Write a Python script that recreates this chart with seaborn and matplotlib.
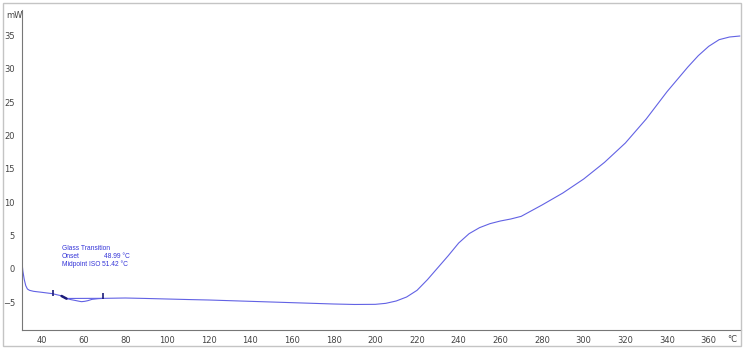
import matplotlib
matplotlib.use("Agg")
import matplotlib.pyplot as plt
import seaborn as sns
import pandas as pd
from matplotlib.patches import Rectangle
from matplotlib.ticker import MultipleLocator

# DSC curve, temperature in °C vs heat flow in mW
temp = [30.4, 30.8, 31.5, 32.2, 33, 34, 36, 40, 45, 49, 50, 52, 54, 56, 58, 59, 60.5,
        62, 64, 67, 70, 80, 90, 100, 110, 120, 130, 140, 150, 160, 170, 180, 190,
        200, 205, 210, 215, 220, 225, 230, 235, 240, 245, 250, 255, 260, 265, 270,
        280, 290, 300, 310, 320, 330, 340, 350, 355, 360, 365, 370, 375]
heat = [1.0, -0.3, -1.6, -2.5, -3.0, -3.2, -3.35, -3.5, -3.7, -4.0, -4.2, -4.45, -4.6,
        -4.72, -4.85, -4.9, -4.85, -4.75, -4.55, -4.45, -4.4, -4.35, -4.42, -4.5,
        -4.58, -4.65, -4.75, -4.85, -4.95, -5.05, -5.15, -5.25, -5.32, -5.3, -5.15,
        -4.8, -4.2, -3.2, -1.6, 0.2, 2.0, 3.9, 5.3, 6.2, 6.8, 7.2, 7.5, 7.9, 9.6,
        11.4, 13.5, 16.0, 18.9, 22.5, 26.6, 30.3, 32.0, 33.4, 34.4, 34.8, 34.95]

# glass transition evaluation marks
base_t = [51.0, 69.4]
base_h = [-4.42, -4.4]
limit_t = [45.4, 69.4]
limit_h = [-3.65, -4.1]
onset_t = [49.4, 51.8]
onset_h = [-4.05, -4.45]

xticks = list(range(40, 361, 20))
yticks = list(range(-5, 36, 5))

df = pd.DataFrame({"T": temp, "mW": heat})

sns.set_style("white")
plt.rcParams["font.family"] = ["DejaVu Sans"]

fig = plt.figure(figsize=(7.45, 3.5), dpi=100)
ax = fig.add_axes([22 / 745, 20 / 350, 719 / 745, 320 / 350])

line_c = "#6262e4"
sns.lineplot(data=df, x="T", y="mW", ax=ax, color=line_c, lw=0.8, sort=False)
ax.plot(base_t, base_h, color=line_c, lw=0.8)
ax.plot(onset_t, onset_h, color="#1c1c7a", lw=1.8)
ax.plot(limit_t, limit_h, ls="none", marker="|", ms=4, mew=1.2, color="#1c1c7a")

ax.set_xlim(30.4, 375.5)
ax.set_ylim(-9.15, 38.85)
ax.set_xticks(xticks)
ax.set_yticks(yticks)
ax.xaxis.set_minor_locator(MultipleLocator(10))
ax.yaxis.set_minor_locator(MultipleLocator(1))
ax.tick_params(axis="x", which="major", direction="in", length=4, width=0.6,
               labelsize=6, colors="#666666", labelcolor="#444444", pad=4)
ax.tick_params(axis="x", which="minor", direction="in", length=2.5, width=0.6, colors="#666666")
ax.tick_params(axis="y", which="major", direction="out", length=3, width=0.6,
               labelsize=6, colors="#666666", labelcolor="#444444", pad=2)
ax.tick_params(axis="y", which="minor", direction="out", length=1.5, width=0.5, colors="#666666")
ax.set_xlabel("")
ax.set_ylabel("")

for side in ["top", "right"]:
    ax.spines[side].set_visible(False)
for side in ["left", "bottom"]:
    ax.spines[side].set_color("#777777")
    ax.spines[side].set_linewidth(0.8)

txt_c = "#3434d8"
fs = 4.8
ann_font = ["Liberation Sans", "DejaVu Sans"]
ax.text(49.6, 3.0, "Glass Transition", fontsize=fs, color=txt_c, va="center", family=ann_font)
ax.text(49.6, 1.8, "Onset", fontsize=fs, color=txt_c, va="center", family=ann_font)
ax.text(69.8, 1.8, "48.99 °C", fontsize=fs, color=txt_c, va="center", family=ann_font)
ax.text(49.6, 0.7, "Midpoint ISO", fontsize=fs, color=txt_c, va="center", family=ann_font)
ax.text(68.6, 0.7, "51.42 °C", fontsize=fs, color=txt_c, va="center", family=ann_font)

fig.text(6 / 745, 1 - 15 / 350, "mW", fontsize=6, color="#444444", va="center")
fig.text(727 / 745, 1 - 339 / 350, "°C", fontsize=6, color="#444444", va="center")

# outer frame
fig.patches.append(Rectangle((3 / 745, 4 / 350), 738 / 745, 343 / 350,
                             transform=fig.transFigure, fill=False,
                             edgecolor="#c4c4c4", lw=1))

fig.savefig("out.png", dpi=100)
